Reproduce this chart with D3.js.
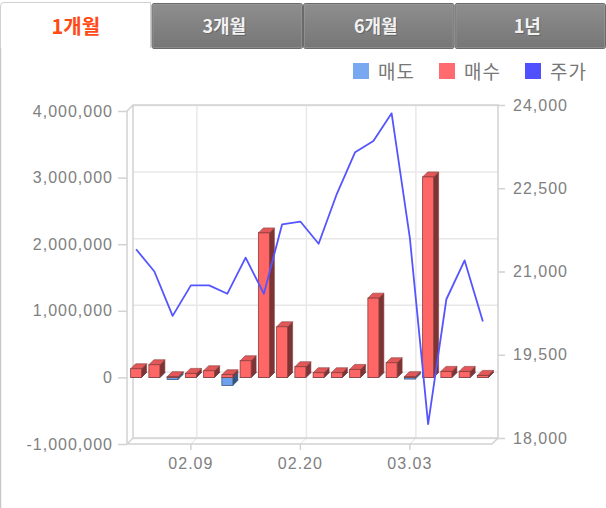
<!DOCTYPE html>
<html><head><meta charset="utf-8">
<script src="https://cdn.jsdelivr.net/npm/d3@7"></script>
<style>
html,body{margin:0;padding:0;background:#fff;}
svg{display:block;}
</style></head>
<body>
<svg id="c" width="606" height="508"></svg>
<script>
const dates = ["02.04","02.05","02.06","02.09","02.10","02.11","02.12","02.13","02.19","02.20","02.23","02.24","02.25","02.26","02.27","03.03","03.04","03.05","03.06","03.09"];
const buyValues = [130000,190000,10000,60000,100000,40000,250000,2170000,760000,160000,70000,70000,120000,1190000,220000,10000,3010000,90000,90000,30000];
const sellValues = [0,0,-30000,0,0,-120000,0,0,0,0,0,0,0,0,0,-25000,0,0,0,0];
const priceValues = [21400,21000,20200,20750,20750,20600,21250,20600,21850,21900,21500,22400,23150,23350,23850,21600,18250,20500,21200,20100];
const leftTicks = [4000000,3000000,2000000,1000000,0,-1000000];
const rightTicks = [24000,22500,21000,19500,18000];
const shownDates = ["02.09","02.20","03.03"];
const tabLabels = ["1개월","3개월","6개월","1년"];
const legendItems = [["매도","#78a8f0"],["매수","#ff6b6f"],["주가","#5050ff"]];

const svg = d3.select("#c");
const numFont = "'Liberation Sans', Arial, sans-serif";
const krFont = "'Noto Sans CJK KR', 'Noto Sans', sans-serif";
const fmt = d3.formatLocale({decimal:".",thousands:",",grouping:[3],currency:["",""],minus:"-"}).format(",");
const D = 6; // depth of box
const BD = 5; // bar depth

// page border
svg.append("line").attr("x1",0.5).attr("x2",0.5).attr("y1",40).attr("y2",508).attr("stroke","#c8c8c8").attr("stroke-width",1.5);

// tabs
const defs = svg.append("defs");
const g1 = defs.append("linearGradient").attr("id","tabg").attr("x1",0).attr("x2",0).attr("y1",0).attr("y2",1);
g1.append("stop").attr("offset","0%").attr("stop-color","#8e8e8e");
g1.append("stop").attr("offset","100%").attr("stop-color","#767676");
const tabX = d3.scaleBand().domain(tabLabels).range([0,606]);
tabLabels.forEach((t,i)=>{
  const x = tabX(t), w = tabX.bandwidth();
  if(i===0){
    svg.append("path").attr("d",`M0.5,48 L0.5,6 Q0.5,2.5 4,2.5 L${x+w-1},2.5 L${x+w-1},48`)
      .attr("fill","#fff").attr("stroke","#d0d0d0");
    svg.append("text").attr("x",x+w/2).attr("y",34).attr("text-anchor","middle")
      .attr("font-family",krFont).attr("font-weight","bold").attr("font-size",20)
      .attr("fill","#ff4a14").text(t);
  } else {
    svg.append("rect").attr("x",x+0.5).attr("y",3.5).attr("width",w-1).attr("height",45)
      .attr("rx",2).attr("fill","url(#tabg)").attr("stroke","#6a6a6a");
    svg.append("rect").attr("x",x+1.5).attr("y",4.5).attr("width",w-3).attr("height",43)
      .attr("fill","none").attr("stroke","#a0a0a0").attr("stroke-opacity",0.5);
    svg.append("text").attr("x",x+w/2-2).attr("y",34).attr("text-anchor","middle")
      .attr("font-family",krFont).attr("font-weight","bold").attr("font-size",18)
      .attr("fill","#555").attr("opacity",0.6).text(t);
    svg.append("text").attr("x",x+w/2-3).attr("y",33).attr("text-anchor","middle")
      .attr("font-family",krFont).attr("font-weight","bold").attr("font-size",18)
      .attr("fill","#f2f2f2").text(t);
  }
});

// legend
const legX = [353,439,525];
legendItems.forEach((d,i)=>{
  svg.append("rect").attr("x",legX[i]).attr("y",63).attr("width",16).attr("height",16).attr("fill",d[1]);
  svg.append("text").attr("x",legX[i]+25).attr("y",79).attr("font-family",krFont)
    .attr("font-size",19).attr("fill","#777").attr("letter-spacing",1).text(d[0]);
});

// geometry
const fx0 = 127, fx1 = 492, fyTop = 111, fyBot = 444;
const x = d3.scaleBand().domain(dates).range([fx0,fx1]);
const yL = d3.scaleLinear().domain([-1000000,4000000]).range([fyBot,fyTop]);
const yR = d3.scaleLinear().domain([18000,24000]).range([fyBot-D,fyTop-D]);
const cx = d => x(d)+x.bandwidth()/2;

// back wall
svg.append("rect").attr("x",fx0+D).attr("y",fyTop-D).attr("width",fx1-fx0).attr("height",fyBot-fyTop)
  .attr("fill","#fff");
svg.append("g").selectAll("line").data(leftTicks).join("line")
  .attr("x1",fx0+D).attr("x2",fx1+D).attr("y1",d=>yL(d)-D+0.5).attr("y2",d=>yL(d)-D+0.5)
  .attr("stroke","#e8e8e8").attr("stroke-width",1.5);
svg.append("g").selectAll("line").data(shownDates).join("line")
  .attr("x1",d=>cx(d)+D).attr("x2",d=>cx(d)+D).attr("y1",fyTop-D).attr("y2",fyBot-D)
  .attr("stroke","#e8e8e8").attr("stroke-width",1.5);
svg.append("g").selectAll("line").data(shownDates).join("line")
  .attr("x1",d=>cx(d)+D).attr("x2",d=>cx(d)).attr("y1",fyBot-D).attr("y2",fyBot)
  .attr("stroke","#e0e0e0");
const frame = "#d2d2d2";
svg.append("path").attr("fill","none").attr("stroke",frame).attr("stroke-width",1.5)
  .attr("d",`M${fx0+D},${fyBot-D} L${fx0+D},${fyTop-D} L${fx1+D},${fyTop-D} L${fx1+D},${fyBot-D} L${fx0+D},${fyBot-D}
   M${fx0},${fyTop} L${fx0+D},${fyTop-D} M${fx0},${fyBot} L${fx1},${fyBot} L${fx1+D},${fyBot-D} M${fx0},${fyBot} L${fx0+D},${fyBot-D}`);
svg.append("line").attr("x1",fx0).attr("x2",fx0).attr("y1",fyTop).attr("y2",fyBot).attr("stroke",frame).attr("stroke-width",1.5);

function styleText(sel){
  sel.attr("font-family",numFont).attr("font-size",16).attr("fill","#808080").attr("letter-spacing",1);
}
// left axis
const axL = svg.append("g").attr("transform",`translate(${fx0},0)`)
  .call(d3.axisLeft(yL).tickValues(leftTicks).tickSize(9).tickPadding(5).tickFormat(fmt));
axL.select(".domain").remove();
axL.selectAll("line").attr("stroke",frame).attr("stroke-width",1.5);
styleText(axL.selectAll("text"));

// right axis
const axR = svg.append("g").attr("transform",`translate(${fx1+D},0)`)
  .call(d3.axisRight(yR).tickValues(rightTicks).tickSize(7).tickPadding(8).tickFormat(fmt));
axR.select(".domain").remove();
axR.selectAll("line").attr("stroke",frame).attr("stroke-width",1.5);
styleText(axR.selectAll("text"));

// bottom axis
const axB = svg.append("g").attr("transform",`translate(0,${fyBot})`)
  .call(d3.axisBottom(x).tickValues(shownDates).tickSize(6).tickPadding(8));
axB.select(".domain").remove();
axB.selectAll("line").attr("stroke",frame).attr("stroke-width",1.5);
styleText(axB.selectAll("text"));

// 3D bars
const bw = 11;
function bar3d(g, d, v, cols){
  const x0 = cx(d)-bw/2, x1 = cx(d)+bw/2;
  const ya = yL(0), yb = yL(v);
  const yt = Math.min(ya,yb), ybt = Math.max(ya,yb);
  const gg = g.append("g");
  gg.append("path").attr("d",`M${x1},${yt} L${x1+BD},${yt-BD} L${x1+BD},${ybt-BD} L${x1},${ybt} Z`)
    .attr("fill",cols.side).attr("stroke",cols.stroke).attr("stroke-width",0.6);
  gg.append("path").attr("d",`M${x0},${yt} L${x0+BD},${yt-BD} L${x1+BD},${yt-BD} L${x1},${yt} Z`)
    .attr("fill",cols.top).attr("stroke",cols.stroke).attr("stroke-width",0.6);
  gg.append("rect").attr("x",x0).attr("y",yt).attr("width",bw).attr("height",Math.max(ybt-yt,0))
    .attr("fill",cols.front).attr("stroke",cols.stroke).attr("stroke-width",0.8);
}
const sellCols = {front:"#6ea2ef",top:"#5a86c6",side:"#36557d",stroke:"#3d5677"};
const buyCols = {front:"#ff6767",top:"#e25858",side:"#7c3434",stroke:"#8a3c3c"};
const bars = svg.append("g");
dates.forEach((d,i)=>{
  bar3d(bars,d,sellValues[i],sellCols);
  bar3d(bars,d,buyValues[i],buyCols);
});

// price line
const line = d3.line().x((d,i)=>cx(dates[i])).y(d=>yR(d));
svg.append("path").datum(priceValues).attr("d",line).attr("fill","none")
  .attr("stroke","#5555ff").attr("stroke-width",1.8).attr("stroke-linejoin","round");
</script>
</body></html>
